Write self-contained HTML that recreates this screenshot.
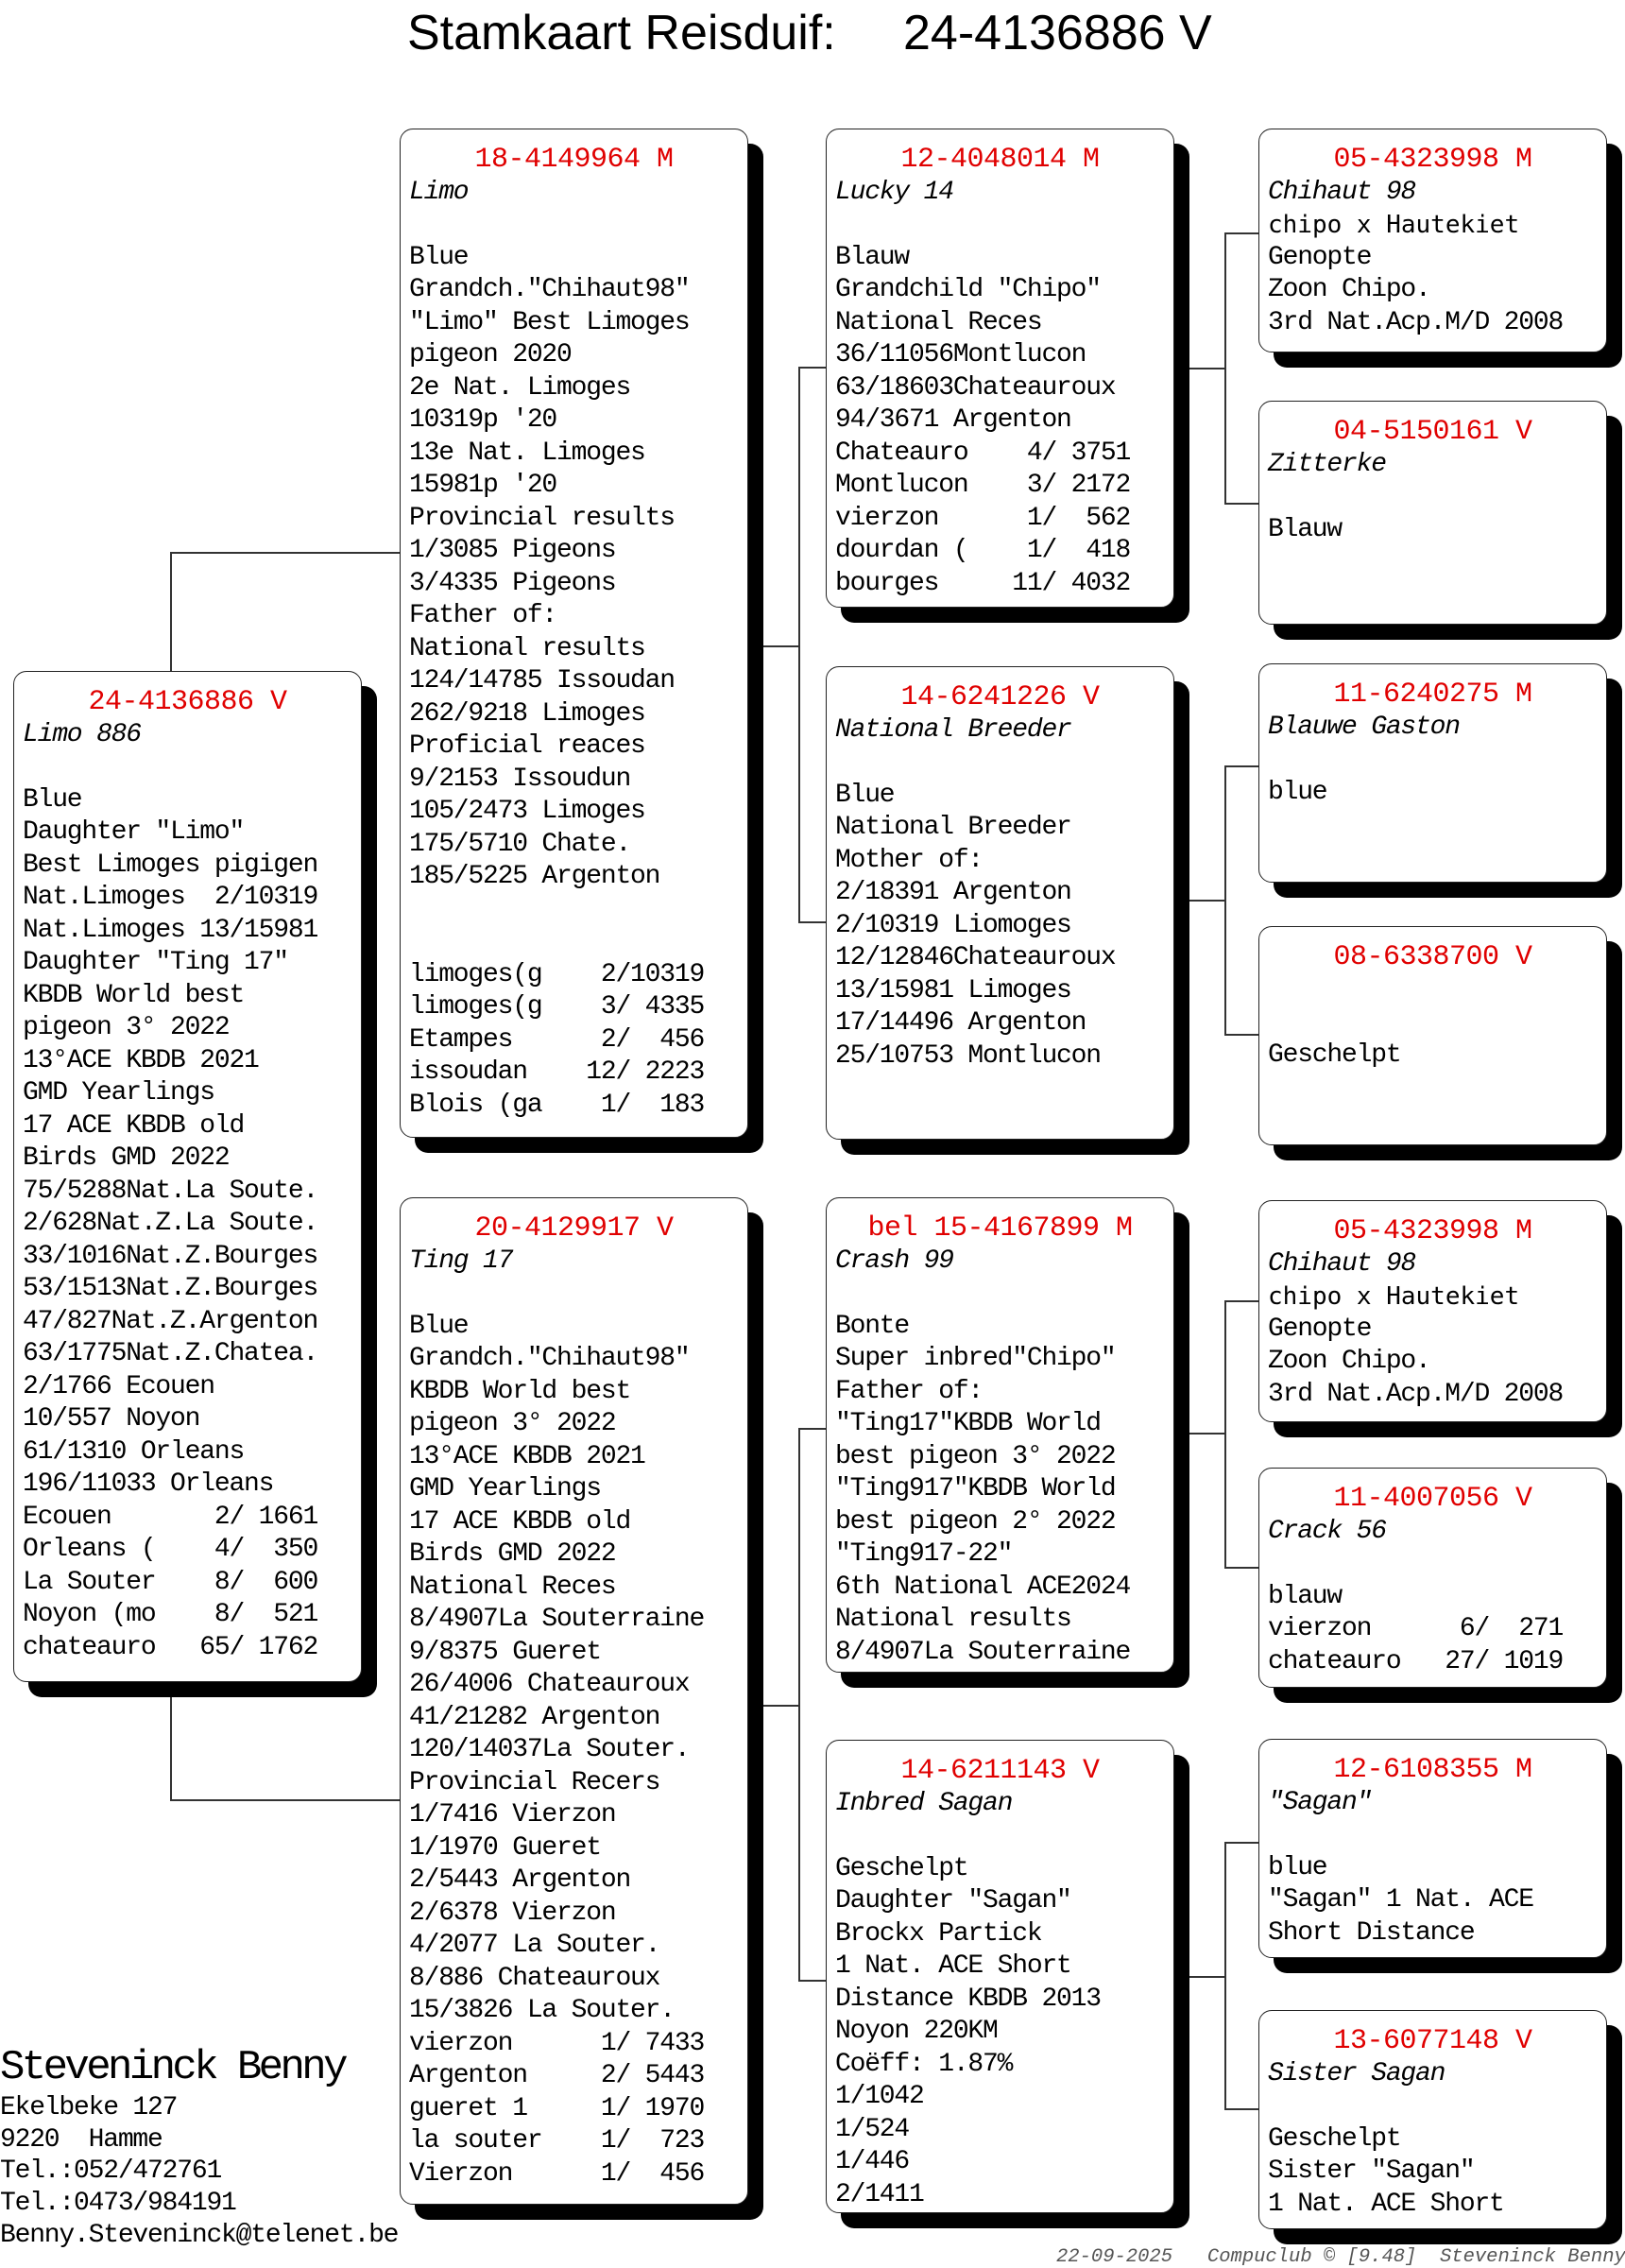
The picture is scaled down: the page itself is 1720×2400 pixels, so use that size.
<!DOCTYPE html>
<html><head><meta charset="utf-8">
<style>
*{margin:0;padding:0;box-sizing:border-box}
body{width:1720px;height:2399px;background:#fff;position:relative;overflow:hidden;font-family:"Liberation Mono",monospace;color:#000}
.t{position:absolute;font-family:"Liberation Sans",sans-serif;font-size:52px;top:5px;white-space:pre}
.box{position:absolute;width:369px;border:1.5px solid #222;border-radius:14px;background:#fff;box-shadow:16px 16px 0 #000;padding:15px 0 0 9px;font-size:28px;letter-spacing:-1.2px;line-height:34.5px;white-space:pre;overflow:hidden}
.h{color:#e00000;text-align:center;font-size:30px;letter-spacing:-0.5px;margin-left:-9px}
.i{font-style:italic}
.d{font-family:"DejaVu Sans Mono",monospace;font-size:26px;letter-spacing:0}
.l{position:absolute;background:#333}
.own{position:absolute;left:0;white-space:pre;font-size:28px;letter-spacing:-1.2px;line-height:33.7px}
.ft{position:absolute;left:1118px;top:2377px;font-size:20.5px;font-style:italic;color:#555;white-space:pre}
</style></head><body>
<div class="t" style="left:431px">Stamkaart Reisduif:</div>
<div class="t" style="left:956px">24-4136886 V</div>

<!-- connectors -->
<div class="l" style="left:180px;top:584px;width:2px;height:126px"></div>
<div class="l" style="left:180px;top:584px;width:244px;height:2px"></div>
<div class="l" style="left:180px;top:1775px;width:2px;height:130px"></div>
<div class="l" style="left:180px;top:1904px;width:244px;height:2px"></div>

<div class="l" style="left:790px;top:683px;width:57px;height:2px"></div>
<div class="l" style="left:845px;top:388px;width:2px;height:589px"></div>
<div class="l" style="left:845px;top:388px;width:30px;height:2px"></div>
<div class="l" style="left:845px;top:975px;width:30px;height:2px"></div>

<div class="l" style="left:790px;top:1804px;width:57px;height:2px"></div>
<div class="l" style="left:845px;top:1511px;width:2px;height:586px"></div>
<div class="l" style="left:845px;top:1511px;width:30px;height:2px"></div>
<div class="l" style="left:845px;top:2095px;width:30px;height:2px"></div>

<div class="l" style="left:1242px;top:389px;width:56px;height:2px"></div>
<div class="l" style="left:1296px;top:246px;width:2px;height:288px"></div>
<div class="l" style="left:1296px;top:246px;width:37px;height:2px"></div>
<div class="l" style="left:1296px;top:532px;width:37px;height:2px"></div>

<div class="l" style="left:1242px;top:952px;width:56px;height:2px"></div>
<div class="l" style="left:1296px;top:810px;width:2px;height:286px"></div>
<div class="l" style="left:1296px;top:810px;width:37px;height:2px"></div>
<div class="l" style="left:1296px;top:1094px;width:37px;height:2px"></div>

<div class="l" style="left:1242px;top:1516px;width:56px;height:2px"></div>
<div class="l" style="left:1296px;top:1376px;width:2px;height:284px"></div>
<div class="l" style="left:1296px;top:1376px;width:37px;height:2px"></div>
<div class="l" style="left:1296px;top:1658px;width:37px;height:2px"></div>

<div class="l" style="left:1242px;top:2091px;width:56px;height:2px"></div>
<div class="l" style="left:1296px;top:1949px;width:2px;height:284px"></div>
<div class="l" style="left:1296px;top:1949px;width:37px;height:2px"></div>
<div class="l" style="left:1296px;top:2231px;width:37px;height:2px"></div>

<!-- column 1 -->
<div class="box" style="left:14px;top:710px;height:1070px"><div class="h">24-4136886 V</div><div class="i">Limo 886</div>
Blue
Daughter "Limo"
Best Limoges pigigen
Nat.Limoges  2/10319
Nat.Limoges 13/15981
Daughter "Ting 17"
KBDB World best
pigeon 3° 2022
13°ACE KBDB 2021
GMD Yearlings
17 ACE KBDB old
Birds GMD 2022
75/5288Nat.La Soute.
2/628Nat.Z.La Soute.
33/1016Nat.Z.Bourges
53/1513Nat.Z.Bourges
47/827Nat.Z.Argenton
63/1775Nat.Z.Chatea.
2/1766 Ecouen
10/557 Noyon
61/1310 Orleans
196/11033 Orleans
Ecouen       2/ 1661
Orleans (    4/  350
La Souter    8/  600
Noyon (mo    8/  521
chateauro   65/ 1762</div>

<!-- column 2 -->
<div class="box" style="left:423px;top:136px;height:1068px"><div class="h">18-4149964 M</div><div class="i">Limo</div>
Blue
Grandch."Chihaut98"
"Limo" Best Limoges
pigeon 2020
2e Nat. Limoges
10319p '20
13e Nat. Limoges
15981p '20
Provincial results
1/3085 Pigeons
3/4335 Pigeons
Father of:
National results
124/14785 Issoudan
262/9218 Limoges
Proficial reaces
9/2153 Issoudun
105/2473 Limoges
175/5710 Chate.
185/5225 Argenton


limoges(g    2/10319
limoges(g    3/ 4335
Etampes      2/  456
issoudan    12/ 2223
Blois (ga    1/  183</div>

<div class="box" style="left:423px;top:1267px;height:1066px"><div class="h">20-4129917 V</div><div class="i">Ting 17</div>
Blue
Grandch."Chihaut98"
KBDB World best
pigeon 3° 2022
13°ACE KBDB 2021
GMD Yearlings
17 ACE KBDB old
Birds GMD 2022
National Reces
8/4907La Souterraine
9/8375 Gueret
26/4006 Chateauroux
41/21282 Argenton
120/14037La Souter.
Provincial Recers
1/7416 Vierzon
1/1970 Gueret
2/5443 Argenton
2/6378 Vierzon
4/2077 La Souter.
8/886 Chateauroux
15/3826 La Souter.
vierzon      1/ 7433
Argenton     2/ 5443
gueret 1     1/ 1970
la souter    1/  723
Vierzon      1/  456</div>

<!-- column 3 -->
<div class="box" style="left:874px;top:136px;height:507px"><div class="h">12-4048014 M</div><div class="i">Lucky 14</div>
Blauw
Grandchild "Chipo"
National Reces
36/11056Montlucon
63/18603Chateauroux
94/3671 Argenton
Chateauro    4/ 3751
Montlucon    3/ 2172
vierzon      1/  562
dourdan (    1/  418
bourges     11/ 4032</div>

<div class="box" style="left:874px;top:705px;height:501px"><div class="h">14-6241226 V</div><div class="i">National Breeder</div>
Blue
National Breeder
Mother of:
2/18391 Argenton
2/10319 Liomoges
12/12846Chateauroux
13/15981 Limoges
17/14496 Argenton
25/10753 Montlucon</div>

<div class="box" style="left:874px;top:1267px;height:503px"><div class="h">bel 15-4167899 M</div><div class="i">Crash 99</div>
Bonte
Super inbred"Chipo"
Father of:
"Ting17"KBDB World
best pigeon 3° 2022
"Ting917"KBDB World
best pigeon 2° 2022
"Ting917-22"
6th National ACE2024
National results
8/4907La Souterraine</div>

<div class="box" style="left:874px;top:1841px;height:501px"><div class="h">14-6211143 V</div><div class="i">Inbred Sagan</div>
Geschelpt
Daughter "Sagan"
Brockx Partick
1 Nat. ACE Short
Distance KBDB 2013
Noyon 220KM
Coëff: 1.87%
1/1042
1/524
1/446
2/1411</div>

<!-- column 4 -->
<div class="box" style="left:1332px;top:136px;height:237px"><div class="h">05-4323998 M</div><div class="i">Chihaut 98</div><div class="d">chipo x Hautekiet</div>Genopte
Zoon Chipo.
3rd Nat.Acp.M/D 2008</div>

<div class="box" style="left:1332px;top:424px;height:237px"><div class="h">04-5150161 V</div><div class="i">Zitterke</div>
Blauw</div>

<div class="box" style="left:1332px;top:702px;height:232px"><div class="h">11-6240275 M</div><div class="i">Blauwe Gaston</div>
blue</div>

<div class="box" style="left:1332px;top:980px;height:232px"><div class="h">08-6338700 V</div>

Geschelpt</div>

<div class="box" style="left:1332px;top:1270px;height:235px"><div class="h">05-4323998 M</div><div class="i">Chihaut 98</div><div class="d">chipo x Hautekiet</div>Genopte
Zoon Chipo.
3rd Nat.Acp.M/D 2008</div>

<div class="box" style="left:1332px;top:1553px;height:233px"><div class="h">11-4007056 V</div><div class="i">Crack 56</div>
blauw
vierzon      6/  271
chateauro   27/ 1019</div>

<div class="box" style="left:1332px;top:1840px;height:232px"><div class="h">12-6108355 M</div><div class="i">"Sagan"</div>
blue
"Sagan" 1 Nat. ACE
Short Distance</div>

<div class="box" style="left:1332px;top:2127px;height:232px"><div class="h">13-6077148 V</div><div class="i">Sister Sagan</div>
Geschelpt
Sister "Sagan"
1 Nat. ACE Short</div>

<!-- owner -->
<div class="own" style="top:2163px;font-size:44px;letter-spacing:-3.6px;line-height:50px">Steveninck Benny</div>
<div class="own" style="top:2214px">Ekelbeke 127
9220  Hamme
Tel.:052/472761
Tel.:0473/984191
Benny.Steveninck@telenet.be</div>

<div class="ft">22-09-2025   Compuclub © [9.48]  Steveninck Benny</div>
</body></html>
